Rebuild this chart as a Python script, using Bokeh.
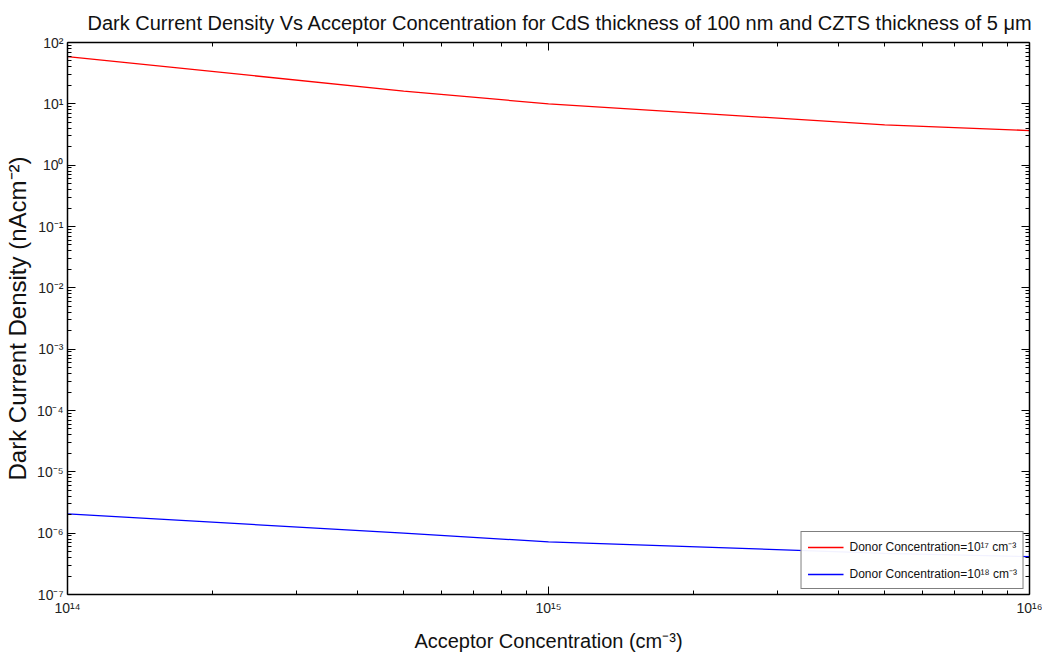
from bokeh.plotting import figure
from bokeh.models import LogAxis, FixedTicker, Legend, LegendItem
from bokeh.embed import file_html
from bokeh.resources import INLINE

acceptor = [1e14, 5e14, 1e15, 5e15, 1e16]
donor_1e17 = [59.0, 16.1, 10.0, 4.55, 3.67]
donor_1e18 = [2.07e-6, 1.0e-6, 7.2e-7, 4.7e-7, 4.15e-7]

x_exps = [14, 15, 16]
y_exps = [-7, -6, -5, -4, -3, -2, -1, 0, 1, 2]
sup = str.maketrans("-0123456789", "⁻⁰¹²³⁴⁵⁶⁷⁸⁹")
x_labels = {10.0 ** e: "10" + str(e).translate(sup) for e in x_exps}
y_labels = {10.0 ** e: "10" + str(e).translate(sup) for e in y_exps}

x_major = [10.0 ** e for e in x_exps]
y_major = [10.0 ** e for e in y_exps]
x_minor = [m * 10.0 ** e for e in x_exps[:-1] for m in range(2, 10)]
y_minor = [m * 10.0 ** e for e in y_exps[:-1] for m in range(2, 10)]

FONT = "Liberation Sans"

p = figure(width=1042, height=657, x_axis_type="log", y_axis_type="log",
           x_range=(1e14, 1e16), y_range=(1e-7, 1e2),
           output_backend="svg", toolbar_location=None,
           min_border_left=64, min_border_right=13, min_border_top=42, min_border_bottom=63,
           title="Dark Current Density Vs Acceptor Concentration for CdS thickness of 100 nm and CZTS thickness of 5 μm")
p.title.text_font = FONT
p.title.text_font_size = "20px"
p.title.text_font_style = "normal"
p.title.text_color = "#111111"
p.title.align = "left"
p.title.offset = 20
p.title.standoff = 18
p.xgrid.visible = False
p.ygrid.visible = False
p.outline_line_color = None
p.background_fill_color = "white"
p.border_fill_color = "white"

r1 = p.line(acceptor, donor_1e17, line_color="#ff0000", line_width=1.3)
r2 = p.line(acceptor, donor_1e18, line_color="#0000ff", line_width=1.3)

def style(ax, ticks, minors, labels, show):
    ax.ticker = FixedTicker(ticks=ticks, minor_ticks=minors)
    ax.major_tick_in = 8
    ax.major_tick_out = 0
    ax.minor_tick_in = 4
    ax.minor_tick_out = 0
    ax.axis_line_color = "black"
    ax.axis_line_width = 1.5
    ax.major_tick_line_color = "black"
    ax.minor_tick_line_color = "black"
    ax.major_label_text_font = FONT
    ax.major_label_text_font_size = "14px"
    ax.major_label_text_color = "#222222"
    if show:
        ax.major_label_overrides = labels
    else:
        ax.major_label_overrides = {t: "" for t in ticks}
        ax.major_label_text_font_size = "1px"
        ax.major_label_standoff = 0

xa = p.xaxis[0]
ya = p.yaxis[0]
style(xa, x_major, x_minor, x_labels, True)
style(ya, y_major, y_minor, y_labels, True)
xa.major_label_standoff = 5
ya.major_label_standoff = 4
xa.axis_label = "Acceptor Concentration (cm⁻³)"
xa.axis_label_text_font = FONT
xa.axis_label_text_font_size = "20px"
xa.axis_label_text_font_style = "normal"
xa.axis_label_text_color = "#111111"
xa.axis_label_standoff = 11
ya.axis_label = "Dark Current Density (nAcm⁻²)"
ya.axis_label_text_font = FONT
ya.axis_label_text_font_size = "24px"
ya.axis_label_text_font_style = "normal"
ya.axis_label_text_color = "#111111"
ya.axis_label_standoff = 3

top = LogAxis()
style(top, x_major, x_minor, x_labels, False)
p.add_layout(top, "above")
right = LogAxis()
style(right, y_major, y_minor, y_labels, False)
p.add_layout(right, "right")

legend = Legend(items=[
    LegendItem(label="Donor Concentration=10¹⁷ cm⁻³", renderers=[r1]),
    LegendItem(label="Donor Concentration=10¹⁸ cm⁻³", renderers=[r2]),
], location="bottom_right")
legend.label_text_font = FONT
legend.label_text_font_size = "12px"
legend.label_text_color = "#111111"
legend.border_line_color = "black"
legend.border_line_width = 1.5
legend.glyph_width = 36
legend.glyph_height = 14
legend.label_height = 14
legend.label_standoff = 6
legend.spacing = 10
legend.padding = 6
legend.margin = 5
legend.background_fill_color = "white"
p.add_layout(legend, "center")

open("out.html", "w").write(file_html(p, INLINE))
